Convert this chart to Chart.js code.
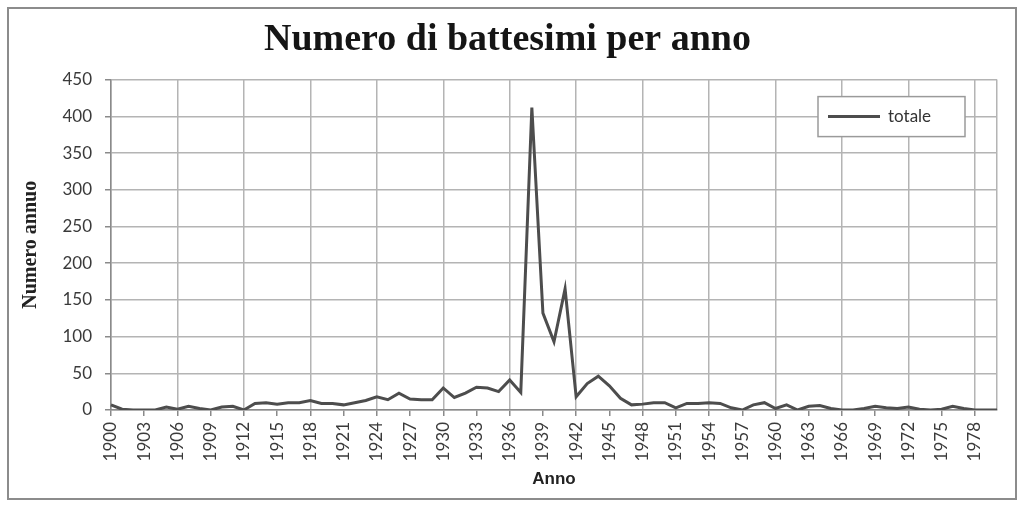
<!DOCTYPE html>
<html>
<head>
<meta charset="utf-8">
<script src="https://cdn.jsdelivr.net/npm/chart.js"></script>
<style>
  html, body { margin: 0; padding: 0; background: #fff; }
  #wrap { width: 1024px; height: 509px; position: relative; }
</style>
</head>
<body>
<div id="wrap"><canvas id="myChart"></canvas></div>
<script>
// Years on the category axis
const years = [
  "1900","1901","1902","1903","1904","1905","1906","1907","1908","1909",
  "1910","1911","1912","1913","1914","1915","1916","1917","1918","1919",
  "1920","1921","1922","1923","1924","1925","1926","1927","1928","1929",
  "1930","1931","1932","1933","1934","1935","1936","1937","1938","1939",
  "1940","1941","1942","1943","1944","1945","1946","1947","1948","1949",
  "1950","1951","1952","1953","1954","1955","1956","1957","1958","1959",
  "1960","1961","1962","1963","1964","1965","1966","1967","1968","1969",
  "1970","1971","1972","1973","1974","1975","1976","1977","1978","1979",
  "1980"
];

// Baptisms per year
const totale = [
  7, 1, 0, 0, 0, 4, 1, 5, 2, 0,
  4, 5, 0, 9, 10, 8, 10, 10, 13, 9,
  9, 7, 10, 13, 18, 14, 23, 15, 14, 14,
  30, 17, 23, 31, 30, 25, 41, 24, 412, 132,
  93, 165, 18, 36, 46, 33, 16, 7, 8, 10,
  10, 3, 9, 9, 10, 9, 3, 0, 7, 10,
  2, 7, 0, 5, 6, 2, 0, 0, 2, 5,
  3, 2, 4, 1, 0, 1, 5, 2, 0, 0,
  0
];

const yTicks = [0, 50, 100, 150, 200, 250, 300, 350, 400, 450];

const lineColor = "#4d4d4d";
const gridColor = "#b4b4b4";
const tickFont = { family: "Lato", size: 17 };

// outer frame, right edge of plot and legend box inside the plot area
const framePlugin = {
  id: "frame",
  afterDraw(chart) {
    const ctx = chart.ctx;
    const area = chart.chartArea;
    ctx.save();
    ctx.strokeStyle = "#8c8c8c";
    ctx.lineWidth = 2;
    ctx.strokeRect(8, 8, 1008, 491);

    // legend
    const ds = chart.data.datasets[0];
    const w = 147, h = 40;
    const x = area.right - 32 - w;
    const y = area.top + 17;
    ctx.fillStyle = "#fff";
    ctx.fillRect(x, y, w, h);
    ctx.strokeStyle = "#9a9a9a";
    ctx.lineWidth = 1.5;
    ctx.strokeRect(x, y, w, h);
    ctx.strokeStyle = ds.borderColor;
    ctx.lineWidth = 3;
    ctx.beginPath();
    ctx.moveTo(x + 10, y + h / 2);
    ctx.lineTo(x + 62, y + h / 2);
    ctx.stroke();
    ctx.fillStyle = "#333";
    ctx.font = "17px Lato";
    ctx.textBaseline = "middle";
    ctx.fillText(ds.label, x + 70, y + h / 2);
    ctx.restore();
  }
};

const ctx = document.getElementById("myChart").getContext("2d");
new Chart(ctx, {
  type: "line",
  data: {
    labels: years,
    datasets: [{
      label: "totale",
      data: totale,
      borderColor: lineColor,
      borderWidth: 3,
      pointRadius: 0,
      tension: 0,
      fill: false
    }]
  },
  options: {
    responsive: true,
    maintainAspectRatio: false,
    animation: false,
    layout: { padding: { left: 18, right: 27, top: 0, bottom: 10 } },
    plugins: {
      legend: { display: false },
      tooltip: { enabled: false },
      title: {
        display: true,
        text: "Numero di battesimi per anno",
        color: "#151515",
        font: { family: "Liberation Serif", size: 38, weight: "bold" },
        padding: { top: 17, bottom: 17 }
      }
    },
    scales: {
      x: {
        offset: false,
        grid: {
          color: c => (c.index % 6 === 0 || c.index === years.length - 1) ? gridColor : "transparent",
          tickColor: c => c.index % 3 === 0 ? "#8a8a8a" : "transparent",
          lineWidth: 1.5,
          tickLength: 6
        },
        border: { color: "#8a8a8a", width: 1.5 },
        ticks: {
          autoSkip: false,
          maxRotation: 90,
          minRotation: 90,
          padding: 6,
          color: "#3a3a3a",
          font: tickFont,
          callback: (v, i) => i % 3 === 0 ? years[i] : ""
        },
        title: {
          display: true,
          text: "Anno",
          color: "#222",
          font: { family: "Liberation Sans", size: 17, weight: "bold" },
          padding: { top: 2, bottom: 9 }
        },
        afterFit: s => { s.height = 89; }
      },
      y: {
        min: 0,
        max: 450,
        afterBuildTicks: s => { s.ticks = yTicks.map(v => ({ value: v })); },
        grid: {
          color: gridColor,
          tickColor: "#8a8a8a",
          lineWidth: 1.5,
          tickLength: 6
        },
        border: { color: "#8a8a8a", width: 1.5 },
        ticks: {
          padding: 13,
          color: "#3a3a3a",
          font: tickFont
        },
        title: {
          display: true,
          text: "Numero annuo",
          color: "#222",
          font: { family: "Liberation Serif", size: 20, weight: "bold" },
          padding: { top: 1, bottom: 0 }
        },
        afterFit: s => { s.width = 93; }
      }
    }
  },
  plugins: [framePlugin]
});
</script>
</body>
</html>
